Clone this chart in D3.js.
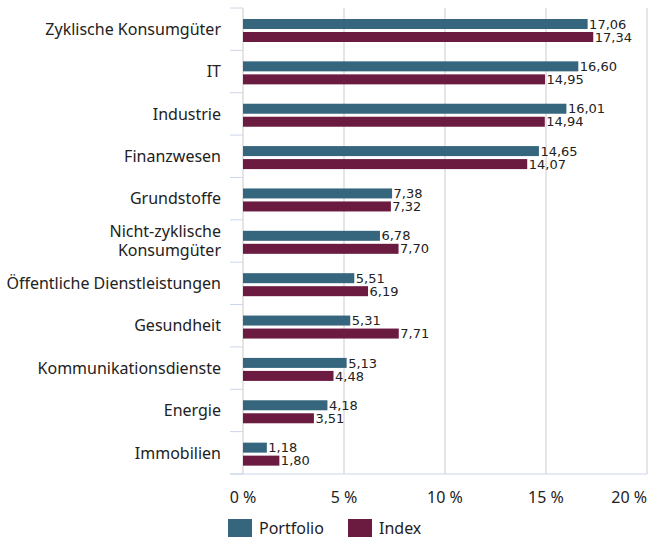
<!DOCTYPE html>
<html>
<head>
<meta charset="utf-8">
<script src="https://cdn.jsdelivr.net/npm/d3@7"></script>
<style>
  body { margin: 0; background: #fff; }
  svg { font-family: "Noto Sans", sans-serif; }
</style>
</head>
<body>
<div id="chart"></div>
<script>
// sector weights, portfolio vs index
var categories = ["Zyklische Konsumgüter", "IT", "Industrie", "Finanzwesen", "Grundstoffe",
    "Nicht-zyklische\nKonsumgüter", "Öffentliche Dienstleistungen", "Gesundheit",
    "Kommunikationsdienste", "Energie", "Immobilien"];
var portfolio = [17.06, 16.60, 16.01, 14.65, 7.38, 6.78, 5.51, 5.31, 5.13, 4.18, 1.18];
var indexValues = [17.34, 14.95, 14.94, 14.07, 7.32, 7.70, 6.19, 7.71, 4.48, 3.51, 1.80];
var xTicks = [0, 5, 10, 15, 20];
var seriesNames = ["Portfolio", "Index"];
var colors = ["#36667d", "#6b1a40"];

var width = 649, height = 539;
var margin = { top: 8, left: 243, right: 2, bottom: 65 };

var svg = d3.select("#chart").append("svg")
    .attr("width", width)
    .attr("height", height);

var x = d3.scaleLinear().domain([0, 20]).range([margin.left, width - margin.right]);
var y = d3.scaleBand().domain(categories).range([margin.top, height - margin.bottom]);

// grid
svg.append("g").selectAll("line")
    .data(xTicks)
    .enter().append("line")
    .attr("x1", function (d) { return x(d); })
    .attr("x2", function (d) { return x(d); })
    .attr("y1", margin.top)
    .attr("y2", height - margin.bottom)
    .attr("stroke", "#dcdcdc")
    .attr("stroke-width", 1.5);

// category ticks
var tickY = categories.map(function (c) { return y(c); });
tickY.push(height - margin.bottom);
svg.append("g").selectAll("line")
    .data(tickY)
    .enter().append("line")
    .attr("x1", margin.left - 13)
    .attr("x2", margin.left)
    .attr("y1", function (d) { return d; })
    .attr("y2", function (d) { return d; })
    .attr("stroke", "#ccd6eb")
    .attr("stroke-width", 1);

svg.append("line")
    .attr("x1", margin.left - 13)
    .attr("x2", width - margin.right)
    .attr("y1", height - margin.bottom)
    .attr("y2", height - margin.bottom)
    .attr("stroke", "#ccd6eb");

var barH = 10;
var series = [portfolio, indexValues];

series.forEach(function (vals, s) {
    var g = svg.append("g");
    g.selectAll("rect")
        .data(vals)
        .enter().append("rect")
        .attr("x", x(0))
        .attr("y", function (d, i) { return y(categories[i]) + 11 + s * 13; })
        .attr("width", function (d) { return x(d) - x(0); })
        .attr("height", barH)
        .attr("fill", colors[s]);
    g.selectAll("text")
        .data(vals)
        .enter().append("text")
        .attr("x", function (d) { return x(d) + 1.5; })
        .attr("y", function (d, i) { return y(categories[i]) + 11 + s * 13 + barH / 2; })
        .attr("dy", "0.36em")
        .attr("font-family", "'DejaVu Sans', sans-serif")
        .attr("font-size", 13)
        .attr("fill", "#222")
        .text(function (d) { return d3.format(".2f")(d).replace(".", ","); });
});

// category labels
svg.append("g").selectAll("text")
    .data(categories)
    .enter().append("text")
    .attr("x", margin.left - 22)
    .attr("y", function (d) { return y(d) + y.bandwidth() / 2; })
    .attr("text-anchor", "end")
    .attr("font-size", 16)
    .attr("fill", "#222")
    .each(function (d) {
        var lines = d.split("\n");
        var t = d3.select(this);
        lines.forEach(function (l, i) {
            t.append("tspan")
                .attr("x", margin.left - 22)
                .attr("dy", i === 0 ? (0.36 - (lines.length - 1) * 0.6) + "em" : "1.2em")
                .text(l);
        });
    });

// x tick labels
svg.append("g").selectAll("text")
    .data(xTicks)
    .enter().append("text")
    .attr("x", function (d) { return x(d); })
    .attr("y", 503)
    .attr("text-anchor", function (d) { return d === 20 ? "end" : "middle"; })
    .attr("font-size", 16)
    .attr("fill", "#222")
    .text(function (d) { return d + " %"; });

// legend
var legend = svg.append("g").selectAll("g")
    .data(seriesNames)
    .enter().append("g")
    .attr("transform", function (d, i) { return "translate(" + (228 + i * 120) + ",519)"; });
legend.append("rect")
    .attr("width", 24)
    .attr("height", 18)
    .attr("fill", function (d, i) { return colors[i]; });
legend.append("text")
    .attr("x", 31)
    .attr("y", 9)
    .attr("dy", "0.36em")
    .attr("font-size", 16)
    .attr("fill", "#222")
    .text(function (d) { return d; });
</script>
</body>
</html>
